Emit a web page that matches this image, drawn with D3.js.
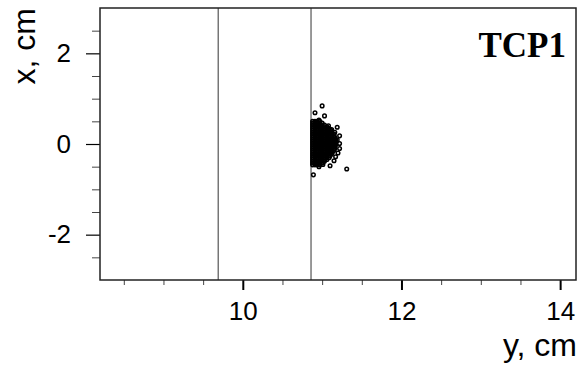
<!DOCTYPE html>
<html>
<head>
<meta charset="utf-8">
<script src="https://cdn.jsdelivr.net/npm/d3@7"></script>
<style>
  body { margin: 0; background: #fff; }
  text { font-family: "Liberation Sans", Arial, sans-serif; }
</style>
</head>
<body>
<div id="chart"></div>
<script>
'use strict'

// axis ranges and ticks (cm)
const xDomain = [8.2, 14.2]
const yDomain = [-3, 3]
const xMajor = [10, 12, 14]
const xMinor = [8.5, 9, 9.5, 10.5, 11, 11.5, 12.5, 13, 13.5]
const yMajor = [-2, 0, 2]
const yMinor = [-2.5, -1.5, -1, -0.5, 0.5, 1, 1.5, 2.5]

// collimator jaw positions
const jaws = [9.69, 10.86]

// dense core of the beam: [x (vertical), list of y positions]
const blobRows = [
  [0.50, [10.88, 10.91, 10.94, 10.97]],
  [0.46, [10.88, 10.91, 10.94, 10.97, 11.00]],
  [0.42, [10.88, 10.91, 10.94, 10.97, 11.00, 11.03]],
  [0.38, [10.88, 10.91, 10.94, 10.97, 11.00, 11.03, 11.06]],
  [0.34, [10.88, 10.91, 10.94, 10.97, 11.00, 11.03, 11.06, 11.09]],
  [0.30, [10.88, 10.91, 10.94, 10.97, 11.00, 11.03, 11.06, 11.09, 11.11]],
  [0.26, [10.88, 10.91, 10.94, 10.97, 11.00, 11.03, 11.06, 11.09, 11.12]],
  [0.22, [10.88, 10.91, 10.94, 10.97, 11.00, 11.03, 11.06, 11.09, 11.12, 11.15]],
  [0.18, [10.88, 10.91, 10.94, 10.97, 11.00, 11.03, 11.06, 11.09, 11.12, 11.15]],
  [0.14, [10.88, 10.91, 10.94, 10.97, 11.00, 11.03, 11.06, 11.09, 11.12, 11.15, 11.16]],
  [0.10, [10.88, 10.91, 10.94, 10.97, 11.00, 11.03, 11.06, 11.09, 11.12, 11.15, 11.17]],
  [0.06, [10.88, 10.91, 10.94, 10.97, 11.00, 11.03, 11.06, 11.09, 11.12, 11.15, 11.17]],
  [0.02, [10.88, 10.91, 10.94, 10.97, 11.00, 11.03, 11.06, 11.09, 11.12, 11.15, 11.17]],
  [-0.02, [10.88, 10.91, 10.94, 10.97, 11.00, 11.03, 11.06, 11.09, 11.12, 11.15, 11.17]],
  [-0.06, [10.88, 10.91, 10.94, 10.97, 11.00, 11.03, 11.06, 11.09, 11.12, 11.15, 11.16]],
  [-0.10, [10.88, 10.91, 10.94, 10.97, 11.00, 11.03, 11.06, 11.09, 11.12, 11.15, 11.16]],
  [-0.14, [10.88, 10.91, 10.94, 10.97, 11.00, 11.03, 11.06, 11.09, 11.12, 11.15]],
  [-0.18, [10.88, 10.91, 10.94, 10.97, 11.00, 11.03, 11.06, 11.09, 11.12, 11.13]],
  [-0.22, [10.88, 10.91, 10.94, 10.97, 11.00, 11.03, 11.06, 11.09, 11.12]],
  [-0.26, [10.88, 10.91, 10.94, 10.97, 11.00, 11.03, 11.06, 11.09, 11.10]],
  [-0.30, [10.88, 10.91, 10.94, 10.97, 11.00, 11.03, 11.06, 11.09]],
  [-0.34, [10.88, 10.91, 10.94, 10.97, 11.00, 11.03, 11.06]],
  [-0.38, [10.88, 10.91, 10.94, 10.97, 11.00, 11.03]],
  [-0.42, [10.88, 10.91, 10.94, 10.97, 11.00]],
  [-0.46, [10.88, 10.91, 10.94, 10.97]]
]

// scattered particles around the core: [y, x]
const strays = [
  [11.00, 0.84], [10.91, 0.69], [11.03, 0.62], [10.96, 0.53], [11.08, 0.40],
  [11.12, 0.32], [11.19, 0.37], [11.16, 0.26], [11.22, 0.18], [11.19, 0.09],
  [11.22, 0.01], [11.22, -0.10], [11.20, -0.20], [11.17, -0.28], [11.15, -0.37],
  [11.10, -0.48], [11.01, -0.45], [10.96, -0.50], [11.31, -0.55], [10.89, -0.68]
]

const points = blobRows.flatMap(r => r[1].map(y => [y, r[0]])).concat(strays)

// svg setup
const svgWidth = 579
const svgHeight = 370
const margin = { left: 100, right: 3, top: 8, bottom: 90 }
const width = svgWidth - margin.left - margin.right
const height = svgHeight - margin.top - margin.bottom

const svg = d3.select('#chart').append('svg')
    .attr('width', svgWidth)
    .attr('height', svgHeight)

const g = svg.append('g')
    .attr('transform', `translate(${margin.left},${margin.top})`)

const xScale = d3.scaleLinear().domain(xDomain).range([0, width])
const yScale = d3.scaleLinear().domain(yDomain).range([height, 0])

// minor ticks
g.append('g')
    .attr('transform', `translate(0,${height})`)
    .call(d3.axisBottom(xScale).tickValues(xMinor).tickSize(5).tickFormat(''))
    .call(a => a.select('.domain').remove())
    .selectAll('line').attr('stroke', '#444')

g.append('g')
    .call(d3.axisLeft(yScale).tickValues(yMinor).tickSize(8).tickFormat(''))
    .call(a => a.select('.domain').remove())
    .selectAll('line').attr('stroke', '#444')

// major ticks with labels (plain hyphen for negatives)
const fmt = d => String(d)

const xAxis = g.append('g')
    .attr('transform', `translate(0,${height})`)
    .call(d3.axisBottom(xScale).tickValues(xMajor).tickSize(10).tickPadding(12).tickFormat(fmt))
xAxis.select('.domain').remove()
xAxis.selectAll('line').attr('stroke', '#000').attr('stroke-width', 2)
xAxis.selectAll('text').attr('font-size', 26).attr('fill', '#000')
    .style('font-family', '"Liberation Sans", Arial, sans-serif')

const yAxis = g.append('g')
    .call(d3.axisLeft(yScale).tickValues(yMajor).tickSize(14).tickPadding(15).tickFormat(fmt))
yAxis.select('.domain').remove()
yAxis.selectAll('line').attr('stroke', '#000').attr('stroke-width', 1.2)
yAxis.selectAll('text').attr('font-size', 26).attr('fill', '#000')
    .style('font-family', '"Liberation Sans", Arial, sans-serif')

// jaws
g.selectAll('.jaw')
    .data(jaws)
    .enter()
    .append('line')
    .attr('class', 'jaw')
    .attr('x1', d => xScale(d))
    .attr('x2', d => xScale(d))
    .attr('y1', 0)
    .attr('y2', height)
    .attr('stroke', '#555')
    .attr('stroke-width', 1.2)

// particles
g.append('g')
    .selectAll('circle')
    .data(points)
    .enter()
    .append('circle')
    .attr('cx', d => xScale(d[0]))
    .attr('cy', d => yScale(d[1]))
    .attr('r', 1.8)
    .attr('fill', 'none')
    .attr('stroke', '#000')
    .attr('stroke-width', 1.5)

// frame
g.append('rect')
    .attr('width', width)
    .attr('height', height)
    .attr('fill', 'none')
    .attr('stroke', '#222')
    .attr('stroke-width', 1.5)

// labels
g.append('text')
    .attr('x', width - 10)
    .attr('y', 49)
    .attr('text-anchor', 'end')
    .style('font-family', '"Liberation Serif", "Times New Roman", serif')
    .style('font-weight', 'bold')
    .style('font-size', '35px')
    .text('TCP1')

svg.append('text')
    .attr('x', 577)
    .attr('y', 356)
    .attr('text-anchor', 'end')
    .style('font-size', '32px')
    .text('y, cm')

svg.append('text')
    .attr('transform', 'translate(35,8) rotate(-90)')
    .attr('text-anchor', 'end')
    .style('font-size', '32px')
    .text('x, cm')
</script>
</body>
</html>
